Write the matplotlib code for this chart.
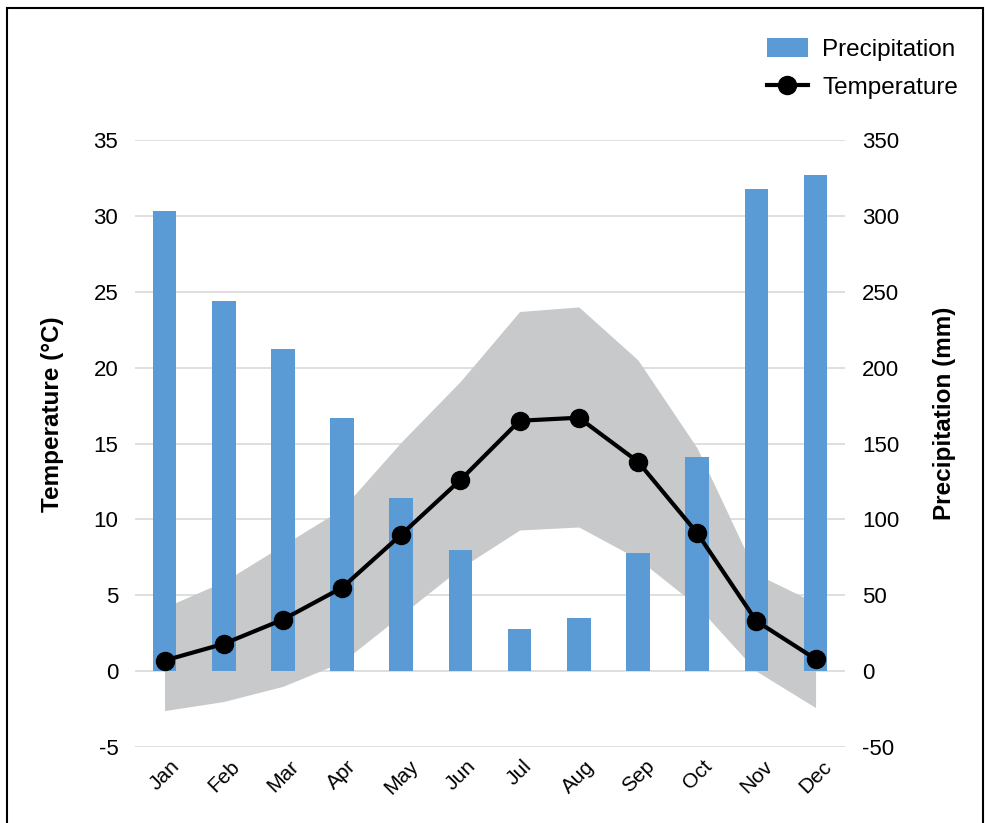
import matplotlib.pyplot as plt
from matplotlib.patches import Rectangle

plt.rcParams['font.family'] = ['Liberation Sans', 'DejaVu Sans']
plt.rcParams['axes.unicode_minus'] = False

months = ['Jan', 'Feb', 'Mar', 'Apr', 'May', 'Jun',
          'Jul', 'Aug', 'Sep', 'Oct', 'Nov', 'Dec']
precip = [303, 244, 212, 167, 114, 80, 28, 35, 78, 141, 318, 327]
temp_mean = [0.7, 1.8, 3.4, 5.5, 9.0, 12.6, 16.5, 16.7, 13.8, 9.1, 3.3, 0.8]
temp_high = [4.2, 5.9, 8.3, 10.7, 15.1, 19.1, 23.7, 24.0, 20.5, 14.7, 6.4, 4.5]
temp_low = [-2.6, -2.0, -1.0, 0.6, 3.7, 6.8, 9.3, 9.5, 7.4, 4.3, 0.0, -2.4]

fig = plt.figure(figsize=(9.85, 8.23), dpi=100)
ax = fig.add_axes([0.137, 0.0923, 0.721, 0.7376])

x = list(range(len(months)))

# temperature range band (bottom layer)
ax.fill_between(x, temp_low, temp_high, color='#C8C9CA', linewidth=0, zorder=2)
ax.set_ylim(-5, 35)
ax.set_yticks(range(-5, 36, 5))
ax.set_xlim(-0.5, 11.5)
ax.set_xticks(x)
ax.set_xticklabels(months, rotation=45, ha='center')
ax.grid(axis='y', color='#D9D9D9', linewidth=1.2, zorder=0)
ax.set_axisbelow(True)
ax.set_ylabel('Temperature (°C)', fontsize=17.5, fontweight='bold')
ax.yaxis.set_label_coords(-0.100, 0.549)

# precipitation bars on the right axis
ax2 = ax.twinx()
bars = ax2.bar(x, precip, width=0.4, color='#5B9BD5', zorder=3, label='Precipitation')
ax2.set_ylim(-50, 350)
ax2.set_yticks(range(-50, 351, 50))
ax2.set_ylabel('Precipitation (mm)', fontsize=17.5, fontweight='bold')
ax2.yaxis.set_label_coords(1.124, 0.549)

# temperature line on top
ax3 = ax.twinx()
ax3.set_ylim(-5, 35)
line, = ax3.plot(x, temp_mean, color='black', linewidth=3, marker='o',
                 markersize=13, label='Temperature', zorder=4)
ax3.axis('off')

for a in (ax, ax2, ax3):
    for s in a.spines.values():
        s.set_visible(False)
    a.tick_params(length=0, labelsize=16)
ax.tick_params(axis='x', labelsize=15, pad=7)
ax.tick_params(axis='y', pad=12)
ax2.tick_params(axis='y', pad=12)

fig.legend(handles=[bars, line], loc='upper right', bbox_to_anchor=(958 / 985, 1 - 38 / 823),
           frameon=False, fontsize=17.5, handlelength=1.65, handleheight=0.8,
           handletextpad=0.6, labelspacing=0.62, borderpad=0, borderaxespad=0)

fig.patches.append(Rectangle((0.0071, -0.01), 0.9909, 1.0003, transform=fig.transFigure,
                             fill=False, edgecolor='black', linewidth=1.5))

fig.savefig('out.png', dpi=100)
